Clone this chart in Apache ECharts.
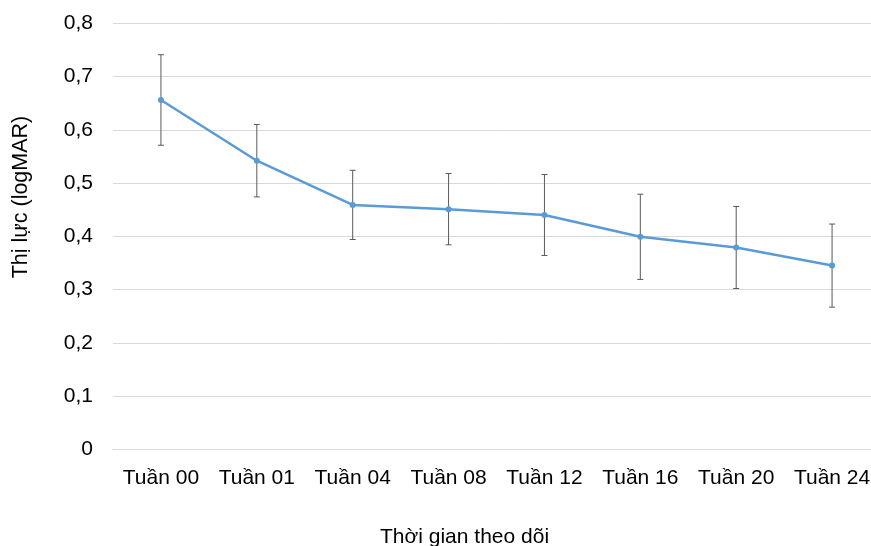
<!DOCTYPE html>
<html><head><meta charset="utf-8">
<script src="https://cdn.jsdelivr.net/npm/echarts@6/dist/echarts.min.js"></script>
<style>html,body{margin:0;padding:0;background:#fff;overflow:hidden;width:871px;height:546px}#c{width:880px;height:546px}</style>
</head><body><div id="c"></div>
<script>
const categories = ['Tuần 00','Tuần 01','Tuần 04','Tuần 08','Tuần 12','Tuần 16','Tuần 20','Tuần 24'];
const meanValues = [0.656, 0.542, 0.459, 0.451, 0.440, 0.399, 0.379, 0.345];
const errValues = [0.085, 0.068, 0.065, 0.067, 0.076, 0.080, 0.077, 0.078];
const yTicks = [0, 0.1, 0.2, 0.3, 0.4, 0.5, 0.6, 0.7, 0.8];
const xTitle = 'Thời gian theo dõi';
const yTitle = 'Thị lực (logMAR)';

const errData = categories.map((c, i) => [i, meanValues[i] - errValues[i], meanValues[i] + errValues[i]]);
const font = 'Liberation Sans, Arial, sans-serif';
const chart = echarts.init(document.getElementById('c'), null, {renderer: 'canvas'});
chart.setOption({
  animation: false,
  backgroundColor: '#fff',
  title: {
    text: xTitle, left: 375, top: 522,
    textStyle: {fontFamily: font, fontSize: 21, fontWeight: 'normal', color: '#000'}
  },
  graphic: [{
    type: 'text', x: 21, y: 197, rotation: Math.PI / 2,
    style: {text: yTitle, font: '21.5px ' + font, fill: '#000', align: 'center', verticalAlign: 'middle'}
  }],
  grid: {left: 113, right: 0, top: 23.3, bottom: 96.7, containLabel: false},
  xAxis: {
    type: 'category', data: categories, boundaryGap: true,
    axisLine: {show: true, lineStyle: {color: '#d9d9d9', width: 1}},
    axisTick: {show: false},
    axisLabel: {fontFamily: font, fontSize: 21, color: '#000', margin: 18, interval: 0}
  },
  yAxis: {
    type: 'value', min: 0, max: 0.8, interval: 0.1,
    axisLine: {show: false}, axisTick: {show: false},
    splitLine: {lineStyle: {color: '#d9d9d9', width: 1}},
    axisLabel: {fontFamily: font, fontSize: 21, color: '#000', margin: 20,
      formatter: v => { const t = yTicks.find(k => Math.abs(k - v) < 1e-9); return (t === 0 ? '0' : String(+(t ?? v).toFixed(1))).replace('.', ','); }}
  },
  series: [
    {
      type: 'custom', data: errData, z: 1,
      renderItem: (params, api) => {
        const x = api.value(0);
        const lo = api.coord([x, api.value(1)]);
        const hi = api.coord([x, api.value(2)]);
        const w = 3;
        const st = {stroke: '#595959', lineWidth: 1};
        return {type: 'group', children: [
          {type: 'line', shape: {x1: lo[0], y1: lo[1], x2: hi[0], y2: hi[1]}, style: st},
          {type: 'line', shape: {x1: lo[0]-w, y1: lo[1], x2: lo[0]+w, y2: lo[1]}, style: st},
          {type: 'line', shape: {x1: hi[0]-w, y1: hi[1], x2: hi[0]+w, y2: hi[1]}, style: st}
        ]};
      }
    },
    {
      type: 'line', data: meanValues, z: 2,
      symbol: 'circle', symbolSize: 6,
      lineStyle: {color: '#5b9bd5', width: 2.5},
      itemStyle: {color: '#5b9bd5'}
    }
  ]
});
</script></body></html>
